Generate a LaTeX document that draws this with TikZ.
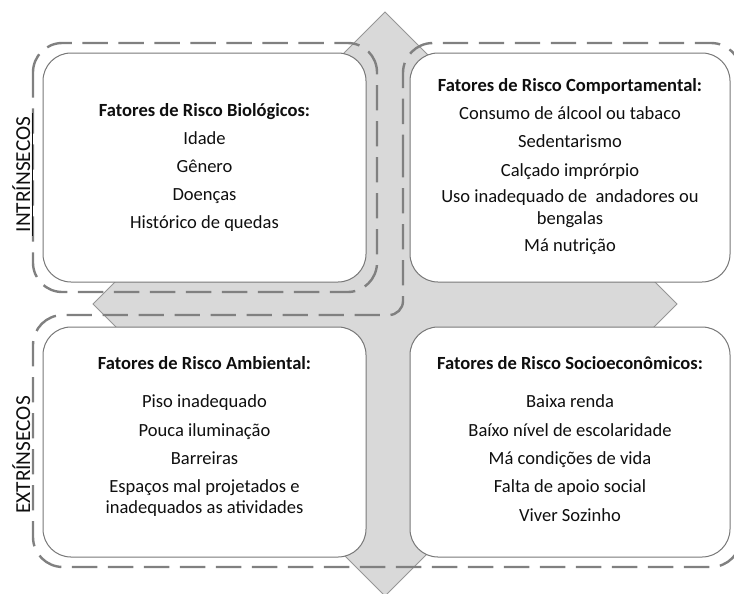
\documentclass[tikz,border=0pt]{standalone}
\usepackage{fontspec}
\setmainfont{Carlito}
\definecolor{crossgray}{RGB}{217,217,217}
\definecolor{crossline}{RGB}{150,150,150}
\definecolor{dashgray}{RGB}{128,128,128}
\definecolor{boxline}{RGB}{120,120,120}
\definecolor{textcol}{RGB}{15,15,15}
\begin{document}
\begin{tikzpicture}[x=0.75pt,y=-0.75pt,
  crossstyle/.style={fill=crossgray, draw=crossline, line width=0.7pt, line join=miter},
  groupline/.style={draw=dashgray, line width=1.8pt, dash pattern=on 19pt off 8pt},
  riskbox/.style={draw=boxline, fill=white, line width=0.75pt, rounded corners=21pt},
  txt/.style={anchor=base, inner sep=0pt, font=\fontsize{13.9}{16}\selectfont, text=textcol},
  ttl/.style={txt, font=\fontsize{13.9}{16}\selectfont\bfseries},
  grouplabel/.style={anchor=base, rotate=90, inner sep=0pt, font=\fontsize{16}{19}\selectfont, text=textcol}]
\useasboundingbox (0,0) rectangle (734,593);
\clip (0,0) rectangle (734,593);

% gray four-way arrow
\draw[crossstyle] (385,12) -- (455,82) -- (435,82) -- (435,254) -- (607,254) -- (607,234)
  -- (677,304) -- (607,374) -- (607,354) -- (435,354) -- (435,526) -- (455,526)
  -- (385,596) -- (315,526) -- (335,526) -- (335,354) -- (163,354) -- (163,374)
  -- (93,304) -- (163,234) -- (163,254) -- (335,254) -- (335,82) -- (315,82) -- cycle;

% dashed group outlines
\draw[groupline, rounded corners=22pt] (33,43) rectangle (377,292);
\draw[groupline] (403,160) -- (403,73) .. controls (403,56.4) and (416.4,43) .. (433,43)
  -- (711,43) .. controls (727.6,43) and (741,56.4) .. (741,73)
  -- (741,537) .. controls (741,553.6) and (727.6,567) .. (711,567)
  -- (63,567) .. controls (46.4,567) and (33,553.6) .. (33,537)
  -- (33,345) .. controls (33,328.4) and (46.4,315) .. (63,315)
  -- (389,315) .. controls (396.7,315) and (403,308.7) .. (403,301) -- cycle;

% group labels
\node[grouplabel] (intr) at (30,174.5) {\underline{\,INTRÍNSECOS\,}};
\node[grouplabel] (extr) at (30,455) {EXTRÍNSECOS};

% boxes
\draw[riskbox] (43,53) rectangle (366,282);
\draw[riskbox] (410,53) rectangle (730,282);
\draw[riskbox] (43,327) rectangle (366,557);
\draw[riskbox] (410,327) rectangle (730,557);

% top-left text
\node[ttl] (tl0) at (204.5,116) {Fatores de Risco Biológicos:};
\node[txt] (tl1) at (204.5,144) {Idade};
\node[txt] (tl2) at (204.5,172) {Gênero};
\node[txt] (tl3) at (204.5,200) {Doenças};
\node[txt] (tl4) at (204.5,228) {Histórico de quedas};

% top-right text
\node[ttl] (tr0) at (570,91) {Fatores de Risco Comportamental:};
\node[txt] (tr1) at (570,119) {Consumo de álcool ou tabaco};
\node[txt] (tr2) at (570,147.5) {Sedentarismo};
\node[txt] (tr3) at (570,176) {Calçado imprórpio};
\node[txt] (tr4) at (570,202.5) {Uso inadequado de~ andadores ou};
\node[txt] (tr5) at (570,224.5) {bengalas};
\node[txt] (tr6) at (570,251) {Má nutrição};

% bottom-left text
\node[ttl] (bl0) at (204.5,369.5) {Fatores de Risco Ambiental:};
\node[txt] (bl1) at (204.5,407.5) {Piso inadequado};
\node[txt] (bl2) at (204.5,436) {Pouca iluminação};
\node[txt] (bl3) at (204.5,464.5) {Barreiras};
\node[txt] (bl4) at (204.5,492.5) {Espaços mal projetados e};
\node[txt] (bl5) at (204.5,513) {inadequados as atividades};

% bottom-right text
\node[ttl] (br0) at (570,369.5) {Fatores de Risco Socioeconômicos:};
\node[txt] (br1) at (570,407.5) {Baixa renda};
\node[txt] (br2) at (570,436) {Baíxo nível de escolaridade};
\node[txt] (br3) at (570,464.5) {Má condições de vida};
\node[txt] (br4) at (570,492.5) {Falta de apoio social};
\node[txt] (br5) at (570,521) {Viver Sozinho};
\end{tikzpicture}
\end{document}
